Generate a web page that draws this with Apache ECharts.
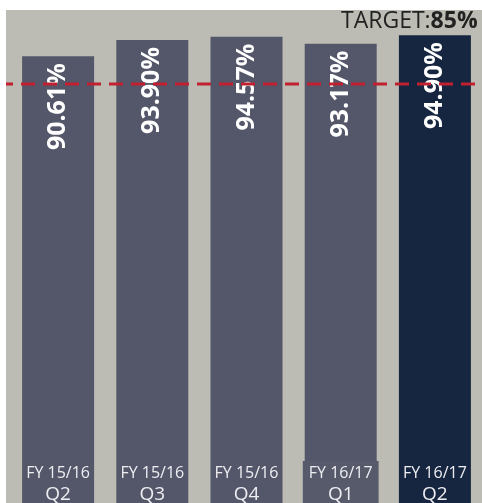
<!DOCTYPE html>
<html>
<head>
<meta charset="utf-8">
<script src="https://cdn.jsdelivr.net/npm/echarts@6/dist/echarts.min.js"></script>
<style>
  html, body { margin: 0; padding: 0; background: #ffffff; }
  #chart {
    position: absolute;
    left: 6px;
    top: 10px;
    width: 476px;
    height: 493px;
    background: #bdbcb4;
  }
</style>
</head>
<body>
<div id="chart"></div>
<script>
const fyLabels = ['FY 15/16', 'FY 15/16', 'FY 15/16', 'FY 16/17', 'FY 16/17'];
const quarters = ['Q2', 'Q3', 'Q4', 'Q1', 'Q2'];
const values = [90.61, 93.90, 94.57, 93.17, 94.90];
const target = 85;

const barColor = '#545769';
const lastColor = '#172640';

const chart = echarts.init(document.getElementById('chart'), null, { renderer: 'canvas' });

const barData = values.map((v, i) => {
    const isLast = i === values.length - 1;
    return {
        value: v,
        itemStyle: { color: isLast ? lastColor : barColor }
    };
});

chart.setOption({
    animation: false,
    title: {
        text: '{n|TARGET:}{b|' + target + '%}',
        left: 335,
        top: 0,
        padding: 0,
        textStyle: {
            fontWeight: 'normal',
            rich: {
                n: { fontFamily: 'Open Sans', fontSize: 23, fontWeight: 'normal', color: '#222222' },
                b: { fontFamily: 'Open Sans', fontSize: 23, fontWeight: 'bold', color: '#222222' }
            }
        }
    },
    grid: [
        { left: 5, width: 475, top: 0, bottom: 0 },
        { left: 0, right: 0, top: 0, bottom: 0 }
    ],
    xAxis: [
        {
            type: 'category',
            gridIndex: 0,
            data: quarters.map((q, i) => fyLabels[i] + ' ' + q),
            show: false
        },
        { type: 'value', gridIndex: 1, min: 0, max: 1, show: false }
    ],
    yAxis: [
        { type: 'value', gridIndex: 0, min: 0, max: 100, show: false },
        { type: 'value', gridIndex: 1, min: 0, max: 100, show: false }
    ],
    series: [
        {
            type: 'bar',
            xAxisIndex: 0,
            yAxisIndex: 0,
            barWidth: 72,
            data: barData,
            label: {
                show: true,
                position: 'insideTop',
                distance: 7,
                rotate: 90,
                align: 'right',
                verticalAlign: 'middle',
                fontFamily: 'Open Sans',
                fontWeight: 'bold',
                fontSize: 25,
                color: '#ffffff',
                formatter: p => p.value.toFixed(2) + '%'
            }
        },
        {
            // bottom category labels inside bars
            type: 'bar',
            xAxisIndex: 0,
            yAxisIndex: 0,
            barWidth: 72,
            barGap: '-100%',
            silent: true,
            itemStyle: { color: 'transparent' },
            data: values.map((v, i) => ({
                value: v,
                label: i === 3 ? { backgroundColor: '#565a6b', padding: [2, 6, 0, 6] } : {}
            })),
            label: {
                show: true,
                position: 'insideBottom',
                distance: -3,
                formatter: p => '{a|' + fyLabels[p.dataIndex] + '}\n{q|' + quarters[p.dataIndex] + '}',
                rich: {
                    a: { fontFamily: 'Open Sans', fontSize: 16, lineHeight: 21, color: '#eeeef2', align: 'center' },
                    q: { fontFamily: 'Open Sans', fontSize: 19, lineHeight: 22, color: '#eeeef2', align: 'center' }
                }
            }
        },
        {
            type: 'line',
            xAxisIndex: 1,
            yAxisIndex: 1,
            symbol: 'none',
            silent: true,
            z: 10,
            data: [[0, target], [1, target]],
            lineStyle: { color: '#c0202f', width: 3, type: [14, 8], dashOffset: 7 }
        }
    ]
});
</script>
</body>
</html>
